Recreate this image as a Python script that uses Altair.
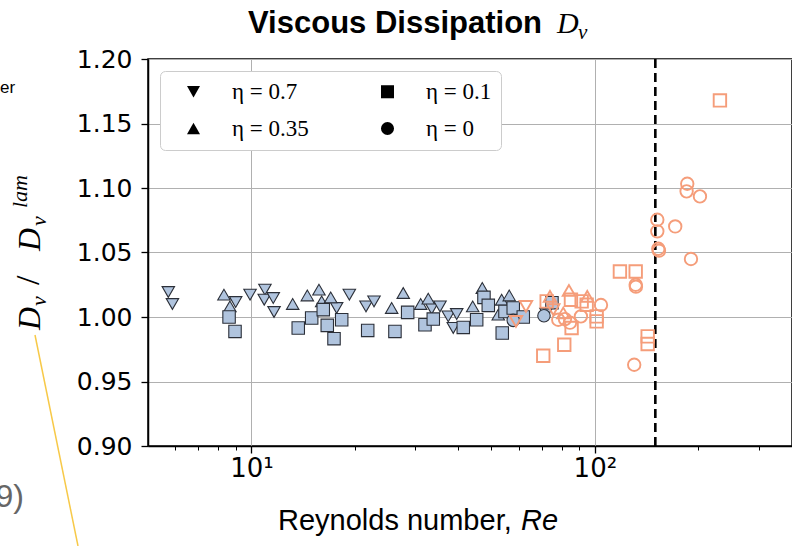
import altair as alt
import pandas as pd

# ---------------- data ----------------
# laminar-like runs (filled light-blue markers)
lam_eta07_re = [5.73, 5.89, 9.00, 9.91, 10.95, 10.90, 11.58, 11.64, 17.71, 19.28, 21.56, 22.75,
                33.49, 35.41, 37.43, 39.61, 38.71, 72.05]
lam_eta07_d = [1.0194, 1.0101, 1.0116, 1.0173, 1.0212, 1.0134, 1.0147, 1.0039, 1.0070, 1.0173,
               1.0082, 1.0121, 1.0064, 1.0082, 1.0005, 1.0023, 0.9915, 1.0026]
lam_eta035_re = [8.32, 8.66, 13.19, 14.55, 15.73, 16.02, 17.02, 25.61, 27.68, 31.11, 32.73,
                 44.09, 47.02, 53.54, 56.33, 52.34]
lam_eta035_d = [1.0173, 1.0082, 1.0101, 1.0167, 1.0212, 1.0121, 1.0152, 1.0070, 1.0186, 1.0101,
                1.0142, 1.0082, 1.0225, 1.0134, 1.0167, 1.0018]
lam_eta01_re = [8.61, 8.96, 13.69, 14.98, 16.19, 16.63, 18.32, 17.40, 21.81, 26.18, 28.51, 32.02,
                33.85, 41.39, 45.28, 47.55, 48.95, 54.74, 57.86, 53.75, 61.88, 75.01]
lam_eta01_d = [1.0000, 0.9888, 0.9915, 0.9992, 1.0057, 0.9935, 0.9979, 0.9832, 0.9896, 0.9888,
               1.0036, 0.9940, 0.9984, 0.9919, 0.9979, 1.0152, 1.0090, 1.0043, 1.0070, 0.9876,
               1.0000, 1.0111]
lam_eta0_re = [57.86, 71.1]
lam_eta0_d = [0.9974, 1.0010]

# turbulent runs (hollow orange markers)
turb_eta07_re = [58.93, 63.00, 75.67]
turb_eta07_d = [0.9966, 1.0082, 1.0057]
turb_eta035_re = [74.02, 80.91, 84.07, 95.03]
turb_eta035_d = [1.0160, 1.0031, 1.0206, 1.0160]
turb_eta01_re = [72.40, 70.76, 81.46, 85.20, 85.57, 91.53, 94.65, 101.2, 101.2, 118.3, 131.5,
                 142.5, 142.5, 231.3]
turb_eta01_d = [1.0121, 0.9700, 0.9785, 1.0134, 0.9915, 1.0121, 1.0095, 1.0005, 0.9966, 1.0353,
                1.0353, 0.9850, 0.9791, 1.1679]
turb_eta0_re = [78.25, 81.85, 84.64, 91.09, 104.2, 131.5, 131.7, 130.2, 152.0, 152.0, 153.0,
                153.7, 171.4, 185.8, 185.0, 202.3, 190.5]
turb_eta0_d = [0.9979, 0.9984, 0.9956, 1.0005, 1.0093, 1.0250, 1.0235, 0.9630, 1.0754, 1.0664,
               1.0529, 1.0514, 1.0702, 1.1033, 1.0974, 1.0935, 1.0450]

critical_re = [150]

# legend order (filled column by column): 0.7, 0.35 | 0.1, 0
eta_labels = ["η = 0.7", "η = 0.35", "η = 0.1", "η = 0"]
eta_shapes = ["triangle-down", "triangle-up", "square", "circle"]
x_major = [10, 100]
x_minor = [6, 7, 8, 9, 20, 30, 40, 50, 60, 70, 80, 90, 200, 300]
y_ticks = [0.90, 0.95, 1.00, 1.05, 1.10, 1.15, 1.20]

# ---------------- table ----------------
series = [
    ("lam", "η = 0.7", lam_eta07_re, lam_eta07_d),
    ("lam", "η = 0.35", lam_eta035_re, lam_eta035_d),
    ("lam", "η = 0.1", lam_eta01_re, lam_eta01_d),
    ("lam", "η = 0", lam_eta0_re, lam_eta0_d),
    ("turb", "η = 0.7", turb_eta07_re, turb_eta07_d),
    ("turb", "η = 0.35", turb_eta035_re, turb_eta035_d),
    ("turb", "η = 0.1", turb_eta01_re, turb_eta01_d),
    ("turb", "η = 0", turb_eta0_re, turb_eta0_d),
]
rows = []
order = 0
for regime, eta, res, ds in series:
    for r, d in zip(res, ds):
        rows.append({"Re": r, "D": d, "eta": eta, "regime": regime, "o": order})
        order += 1
df = pd.DataFrame(rows)

xscale = alt.Scale(type="log", domain=[5, 375], nice=False)
yscale = alt.Scale(domain=[0.9, 1.2], zero=False, nice=False)

points = alt.Chart(df).mark_point(filled=True, size=155, opacity=1).encode(
    x=alt.X("Re:Q", scale=xscale,
            axis=alt.Axis(values=x_major, title=None, orient="bottom",
                          labelExpr="datum.value == 10 ? '10¹' : '10²'",
                          grid=True, gridColor="#b0b0b0", gridWidth=1,
                          tickSize=7, tickWidth=1.3, tickColor="black",
                          domainColor="black", domainWidth=1.5,
                          labelFont="DejaVu Sans", labelFontSize=26, labelColor="black",
                          labelPadding=2)),
    y=alt.Y("D:Q", scale=yscale,
            axis=alt.Axis(values=y_ticks, format=".2f", title=None,
                          grid=True, gridColor="#b0b0b0", gridWidth=1,
                          tickSize=7, tickWidth=1.3, tickColor="black",
                          domainColor="black", domainWidth=1.5,
                          labelFont="DejaVu Sans", labelFontSize=25, labelColor="black",
                          labelPadding=9)),
    shape=alt.Shape("eta:N", scale=alt.Scale(domain=eta_labels, range=eta_shapes),
                    legend=alt.Legend(orient="none", legendX=12, legendY=12, columns=2,
                                      title=None, labelFont="Liberation Serif",
                                      labelFontSize=23, labelColor="black",
                                      symbolSize=170, symbolFillColor="black",
                                      symbolStrokeColor="black", symbolStrokeWidth=0,
                                      padding=9, symbolOffset=13, labelOffset=27,
                                      columnPadding=54, rowPadding=13,
                                      strokeColor="#cccccc", fillColor="white",
                                      cornerRadius=5)),
    fill=alt.Fill("regime:N", scale=alt.Scale(domain=["lam", "turb"],
                                              range=["#b0c4de", "transparent"]), legend=None),
    stroke=alt.Stroke("regime:N", scale=alt.Scale(domain=["lam", "turb"],
                                                  range=["#2b2f38", "#f59d7a"]), legend=None),
    strokeWidth=alt.StrokeWidth("regime:N", scale=alt.Scale(domain=["lam", "turb"],
                                                            range=[1.1, 1.9]), legend=None),
    order=alt.Order("o:Q"),
)

crit = alt.Chart(pd.DataFrame({"Rec": critical_re})).mark_rule(
    color="black", strokeWidth=2.6, strokeDash=[9, 5]
).encode(
    x=alt.X("Rec:Q", scale=xscale,
            axis=alt.Axis(values=x_minor, title=None, orient="bottom", labels=False,
                          domain=False, grid=False, tickSize=4, tickWidth=1,
                          tickColor="black"))
)


def txt(s, x, y, size, font="Liberation Sans", style="normal", weight="normal",
        angle=0, color="black", align="left"):
    return alt.Chart(pd.DataFrame({"t": [s]})).mark_text(
        align=align, baseline="alphabetic", font=font, fontSize=size,
        fontStyle=style, fontWeight=weight, angle=angle, color=color
    ).encode(text="t:N", x=alt.value(x), y=alt.value(y))


# plot origin is at (148, 59) in page pixels
texts = [
    # title
    txt("Viscous Dissipation", 100, -26, 31, weight="bold"),
    txt("D", 409, -26, 30, font="Liberation Serif", style="italic"),
    txt("ν", 430, -20, 21, font="Liberation Serif", style="italic"),
    # x title
    txt("Reynolds number, ", 130, 471, 29),
    txt("Re", 373, 471, 29, style="italic"),
    # y title (rotated, reading upwards)
    txt("D", -108, 271, 32, font="Liberation Serif", style="italic", angle=270),
    txt("ν", -102, 247, 22, font="Liberation Serif", style="italic", angle=270),
    txt("/", -109, 226, 34, font="Liberation Serif", angle=270),
    txt("D", -108, 192, 32, font="Liberation Serif", style="italic", angle=270),
    txt("ν", -102, 167, 22, font="Liberation Serif", style="italic", angle=270),
    txt("lam", -121, 149, 22, font="Liberation Serif", style="italic", angle=270),
    # slide fragments around the figure
    txt("er", -148, 34, 17),
    txt("9)", -124, 448, 32, color="#666666", align="right"),
]

yellow = alt.Chart(pd.DataFrame({"a": [0]})).mark_rule(color="#f7c948", strokeWidth=1.5).encode(
    x=alt.value(-113), y=alt.value(276), x2=alt.value(-70), y2=alt.value(487)
)

chart = alt.layer(crit, points, yellow, *texts).resolve_axis(x="independent").properties(
    width=644, height=387,
    autosize="none",
    padding={"left": 148, "right": 0, "top": 59, "bottom": 100},
    background="white",
).configure_view(stroke="black", strokeWidth=1.5)

chart.save("out.html", embed_options={"renderer": "svg", "actions": False})
